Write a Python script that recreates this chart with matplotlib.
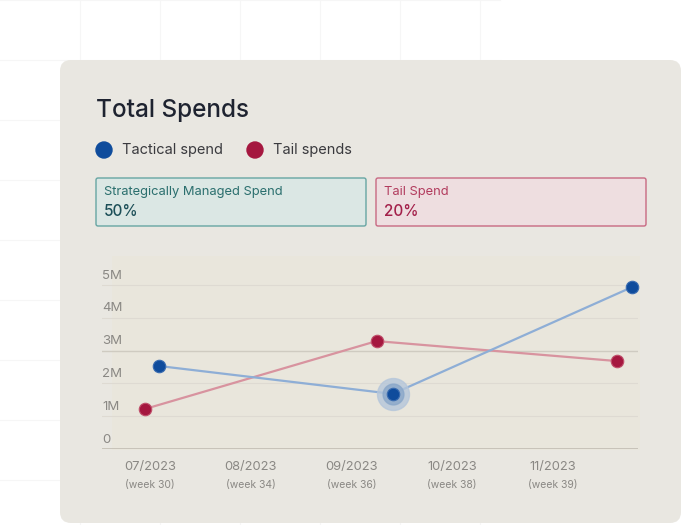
import matplotlib.pyplot as plt
from matplotlib.patches import FancyBboxPatch, Circle
from matplotlib.transforms import blended_transform_factory

plt.rcParams['font.family'] = ['Inter', 'DejaVu Sans']

# data
months = ["07/2023", "08/2023", "09/2023", "10/2023", "11/2023"]
weeks = ["(week 30)", "(week 34)", "(week 36)", "(week 38)", "(week 39)"]
y_ticks = [0, 1, 2, 3, 4, 5]
y_labels = ["0", "1M", "2M", "3M", "4M", "5M"]

tactical_x = [0.09, 2.41, 4.79]
tactical_y = [2.53, 1.68, 4.94]
tail_x = [-0.05, 2.25, 4.64]
tail_y = [1.22, 3.29, 2.68]

blue = "#0f4c9c"
red = "#a5173f"

W, H = 683, 525
fig = plt.figure(figsize=(W / 100, H / 100), dpi=100)
fig.patch.set_facecolor("white")

# fond en pixels
bg = fig.add_axes([0, 0, 1, 1])
bg.set_xlim(0, W)
bg.set_ylim(H, 0)
bg.axis("off")

# grille pâle derrière la carte
for gx in range(80, 500, 80):
    bg.plot([gx, gx], [0, H], color="#f6f6f6", lw=0.8, zorder=0)
for gy in range(0, H, 60):
    bg.plot([0, 500], [gy, gy], color="#f6f6f6", lw=0.8, zorder=0)

card = FancyBboxPatch((60, 60), 621, 463, boxstyle="round,pad=0,rounding_size=11",
                      facecolor="#e9e7e1", edgecolor="none", zorder=1)
bg.add_patch(card)
# zone du graphique légèrement teintée
bg.add_patch(FancyBboxPatch((112, 256), 528, 194, boxstyle="square,pad=0",
                            facecolor="#ebe6d6", edgecolor="none", alpha=0.45, zorder=1))

bg.text(96, 111, "Total Spends", fontsize=17.5, color="#1e2330", va="center",
        fontweight="medium", zorder=3)

# légende
bg.add_patch(Circle((104, 150), 8, color=blue, zorder=3))
bg.text(122, 150, "Tactical spend", fontsize=10.5, color="#3a3a3e", va="center", zorder=3)
bg.add_patch(Circle((255, 150), 8, color=red, zorder=3))
bg.text(273, 150, "Tail spends", fontsize=10.5, color="#3a3a3e", va="center", zorder=3)

# deux cartouches
bg.add_patch(FancyBboxPatch((96, 178), 270, 48, boxstyle="round,pad=0,rounding_size=2",
                            facecolor="#dae7e5", edgecolor="#5a9e9c", lw=1, alpha=0.9, zorder=2))
bg.text(104, 192, "Strategically Managed Spend", fontsize=9.3, color="#2b6f6e", va="center", zorder=3)
bg.text(104, 212, "50%", fontsize=11, color="#1c4f58", va="center", fontweight="medium", zorder=3)

bg.add_patch(FancyBboxPatch((376, 178), 270, 48, boxstyle="round,pad=0,rounding_size=2",
                            facecolor="#efdde0", edgecolor="#c45c78", lw=1, alpha=0.9, zorder=2))
bg.text(384, 192, "Tail Spend", fontsize=9.3, color="#b23c5e", va="center", zorder=3)
bg.text(384, 212, "20%", fontsize=11, color="#a3204a", va="center", fontweight="medium", zorder=3)

# axes du graphique : 0 à y=449 px, 1M = 32.8 px, pas de 100.7 px en x
px0, px1 = 102, 638
y0_px, top_px = 449, 268.6
ax = fig.add_axes([px0 / W, (H - y0_px) / H, (px1 - px0) / W, (y0_px - top_px) / H])
ax.set_facecolor("none")
ax.set_xlim((px0 - 150) / 100.7, (px1 - 150) / 100.7)
ax.set_ylim(0, (y0_px - top_px) / 32.8)
for s in ax.spines.values():
    s.set_visible(False)
ax.set_xticks([])
ax.set_yticks([])

for v in y_ticks:
    if v == 0:
        ax.axhline(v, color="#c2bdb3", lw=1.2, zorder=1)
    elif v == 3:
        ax.axhline(v, color="#cfcbc1", lw=1, zorder=1)
    else:
        ax.axhline(v, color="#dedad2", lw=0.8, zorder=1)

ty = blended_transform_factory(ax.transAxes, ax.transData)
for v, lab in zip(y_ticks, y_labels):
    ax.annotate(lab, (0, v), xycoords=ty, xytext=(0, 2.5), textcoords="offset points",
                fontsize=9.5, color="#8a8884", ha="left", va="bottom")

tx = blended_transform_factory(ax.transData, ax.transAxes)
for i, (m, w) in enumerate(zip(months, weeks)):
    ax.annotate(m, (i, 0), xycoords=tx, xytext=(0, -13), textcoords="offset points",
                fontsize=9.3, color="#8a8884", ha="center", va="center", annotation_clip=False)
    ax.annotate(w, (i, 0), xycoords=tx, xytext=(0, -26), textcoords="offset points",
                fontsize=7.5, color="#8a8884", ha="center", va="center", annotation_clip=False)

ax.plot(tail_x, tail_y, color="#d8939f", lw=1.6, zorder=2)
ax.plot(tactical_x, tactical_y, color="#8eaed6", lw=1.6, zorder=2)

# halo autour du point sélectionné
ax.plot(tactical_x[1], tactical_y[1], "o", ms=23, color="#b5c6da", alpha=0.8, zorder=3, clip_on=False)
ax.plot(tactical_x[1], tactical_y[1], "o", ms=15, color="#8aa7c9", alpha=0.8, zorder=3, clip_on=False)

ax.plot(tail_x, tail_y, "o", ms=9, color=red, mec="#c0506b", mew=0.8, zorder=4, clip_on=False)
ax.plot(tactical_x, tactical_y, "o", ms=9, color=blue, mec="#3a6cb0", mew=0.8, zorder=4, clip_on=False)

fig.savefig("out.png", dpi=100)
